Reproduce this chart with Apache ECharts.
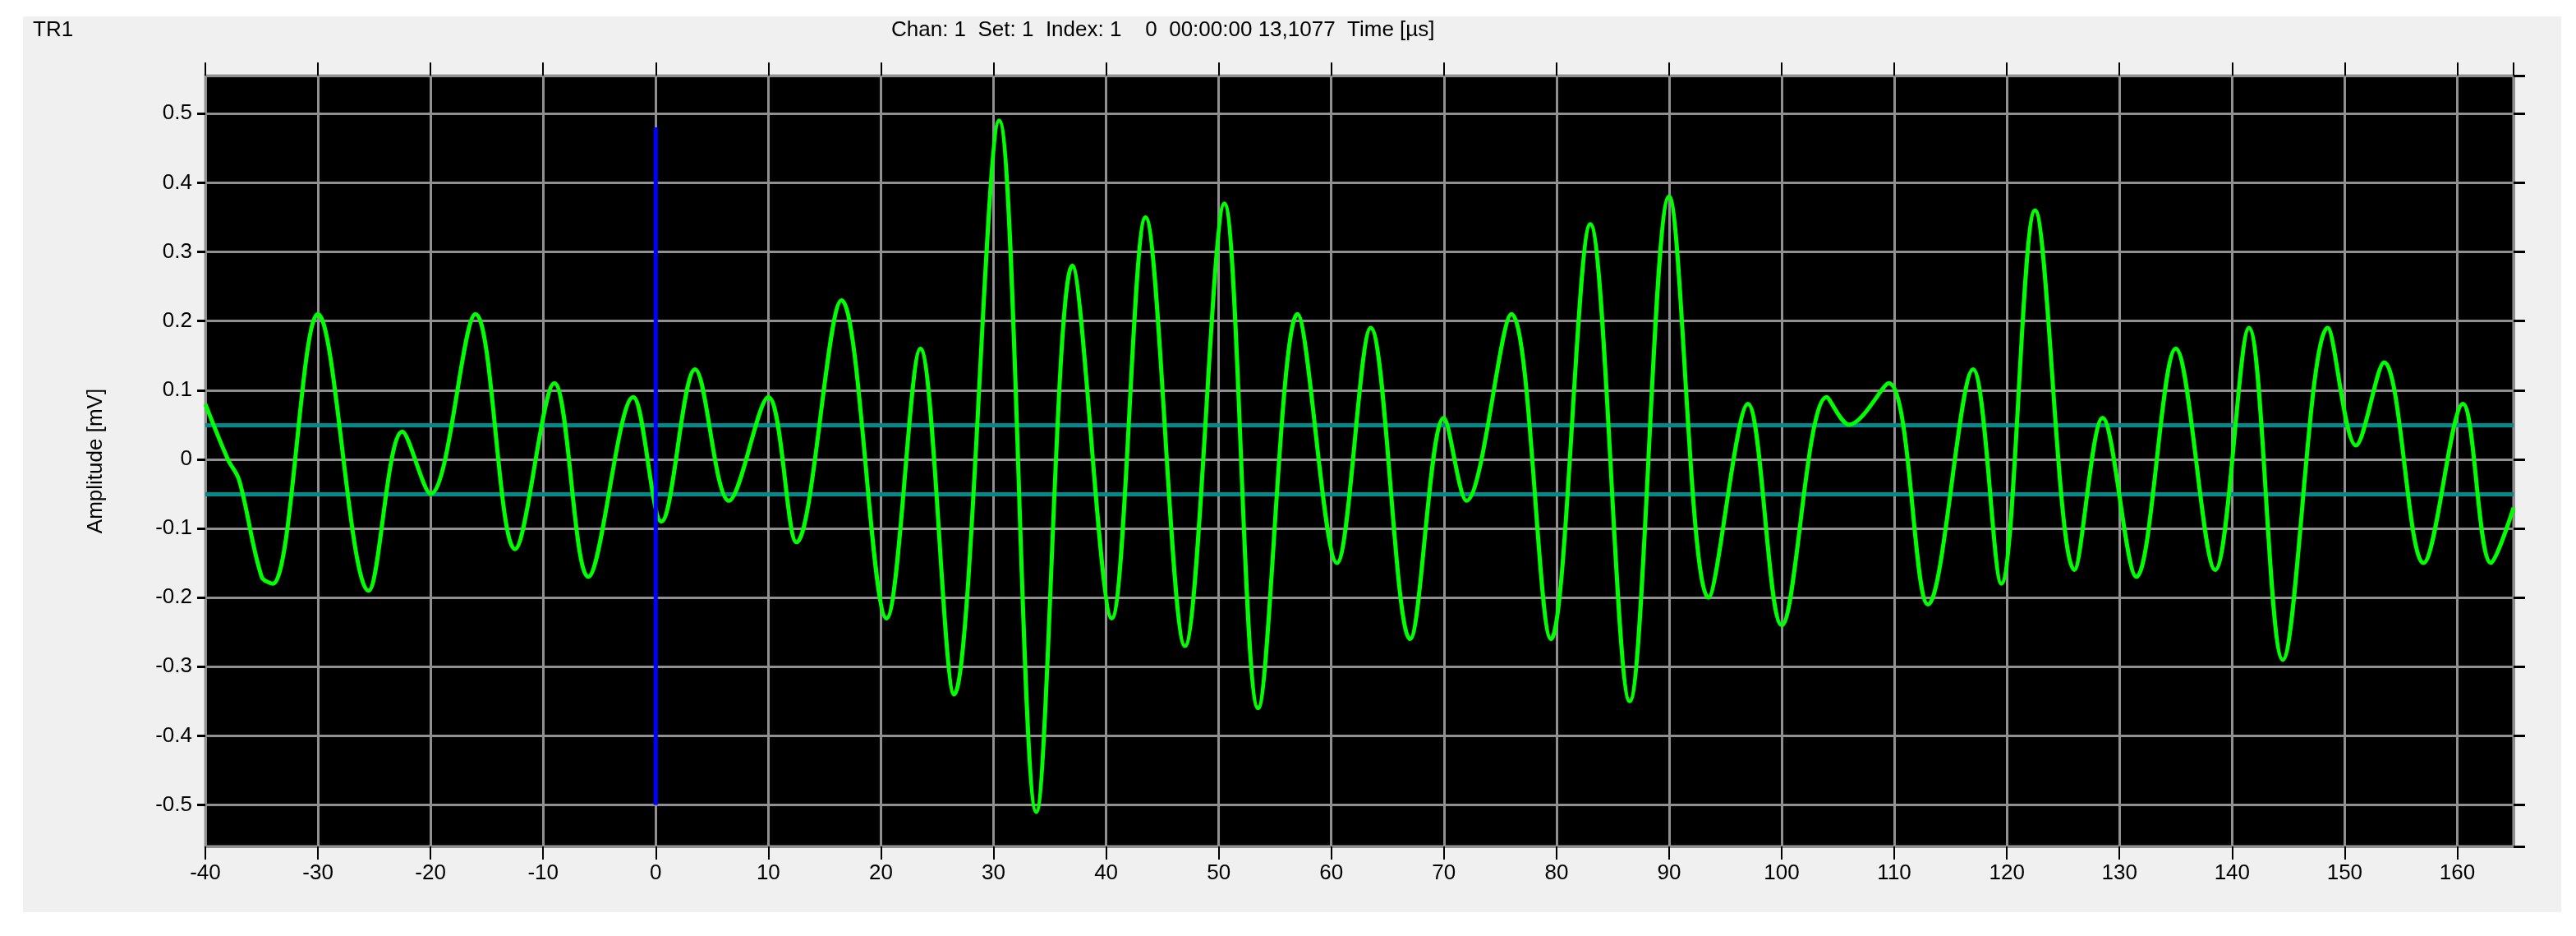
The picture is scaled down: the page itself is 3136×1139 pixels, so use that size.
<!DOCTYPE html>
<html><head><meta charset="utf-8">
<script src="https://cdn.jsdelivr.net/npm/echarts@6/dist/echarts.min.js"></script>
<style>html,body{margin:0;padding:0;background:#fff}#c{width:3136px;height:1139px}</style>
</head><body><div id="c"></div>
<script>
const times = [-40,-38,-37,-35,-34,-30,-25.5,-22.5,-20,-16,-12.5,-9,-6,-2,0.5,3.5,6.5,10,12.5,16.5,20.5,23.5,26.5,30.5,33.8,37,40.5,43.5,47,50.5,53.5,57,60.5,63.5,67,70,72,76,79.5,83,86.5,90,93.5,97,100,104,106,109.5,113,117,119.5,122.5,126,128.5,131.5,135,138.5,141.5,144.5,148.5,151,153.5,157,160.5,163,165];
const amps = [0.08,0.0,-0.03,-0.17,-0.18,0.21,-0.19,0.04,-0.05,0.21,-0.13,0.11,-0.17,0.09,-0.09,0.13,-0.06,0.09,-0.12,0.23,-0.23,0.16,-0.34,0.49,-0.51,0.28,-0.23,0.35,-0.27,0.37,-0.36,0.21,-0.15,0.19,-0.26,0.06,-0.06,0.21,-0.26,0.34,-0.35,0.38,-0.20,0.08,-0.24,0.09,0.05,0.11,-0.21,0.13,-0.18,0.36,-0.16,0.06,-0.17,0.16,-0.16,0.19,-0.29,0.19,0.02,0.14,-0.15,0.08,-0.15,-0.07];
const thresholds = [0.05,-0.05];
const markerX = 0, markerTop = 0.48, markerBottom = -0.5;
const xTicks = {min:-40,max:165,interval:10};
const yRange = {min:-0.56,max:0.555};

const chart = echarts.init(document.getElementById('c'));
const font = 'Liberation Sans, Arial, sans-serif';
const lbl = {color:'#000',fontSize:26,fontFamily:font};
chart.setOption({
  animation:false,
  backgroundColor:'#fff',
  graphic:[
    {type:'rect',shape:{x:28,y:20,width:3090,height:1090},style:{fill:'#f0f0f0'},z:-10},
    {type:'text',left:40,top:24,style:{text:'TR1',fontSize:26,fontFamily:font,fill:'#000'}},
    {type:'text',left:1085,top:24,style:{text:'Chan: 1  Set: 1  Index: 1    0  00:00:00 13,1077  Time [µs]',fontSize:26,fontFamily:font,fill:'#000'}}
  ],
  grid:{left:250,right:76,top:92,bottom:109,show:true,backgroundColor:'#000',borderColor:'#a0a0a0',borderWidth:3},
  xAxis:[{type:'value',position:'bottom',min:xTicks.min,max:xTicks.max,interval:xTicks.interval,
    axisLine:{show:false,onZero:false},axisTick:{show:true,inside:false,length:16,lineStyle:{color:'#000',width:2}},
    axisLabel:{...lbl,margin:20,showMaxLabel:false},
    splitLine:{show:true,lineStyle:{color:'#909090',width:3}}},
   {type:'value',position:'top',min:xTicks.min,max:xTicks.max,interval:xTicks.interval,
    axisLine:{show:false,onZero:false},axisTick:{show:true,length:16,lineStyle:{color:'#000',width:2}},
    axisLabel:{show:false},splitLine:{show:false}}],
  yAxis:[{type:'value',position:'left',min:yRange.min,max:yRange.max,splitNumber:11,
    name:'Amplitude [mV]',nameLocation:'middle',nameGap:120,nameTextStyle:{...lbl},
    axisLine:{show:false,onZero:false},axisTick:{show:true,length:10,lineStyle:{color:'#000',width:3}},
    axisLabel:{...lbl,margin:16,showMinLabel:false,showMaxLabel:false,
      formatter:v=>{const r=Math.round(v*10)/10;return Math.abs(r-v)<1e-6?(r===0?'0':r.toFixed(1)):'';}},
    splitLine:{show:true,lineStyle:{color:'#909090',width:3}}},
   {type:'value',position:'right',min:yRange.min,max:yRange.max,splitNumber:11,
    axisLine:{show:false,onZero:false},axisTick:{show:true,length:14,lineStyle:{color:'#000',width:3}},
    axisLabel:{show:false},splitLine:{show:false}}],
  series:[
    {type:'line',data:times.map((t,i)=>[t,amps[i]]),smooth:0.35,showSymbol:false,
     lineStyle:{color:'#00ff00',width:5},z:5,
     markLine:{silent:true,symbol:'none',label:{show:false},
       lineStyle:{color:'#008a8a',width:5,type:'solid'},
       data:thresholds.map(v=>({yAxis:v}))}},
    {type:'line',data:[[markerX,markerBottom],[markerX,markerTop]],showSymbol:false,
     lineStyle:{color:'#0000ff',width:5},z:6}
  ]
});
</script></body></html>
